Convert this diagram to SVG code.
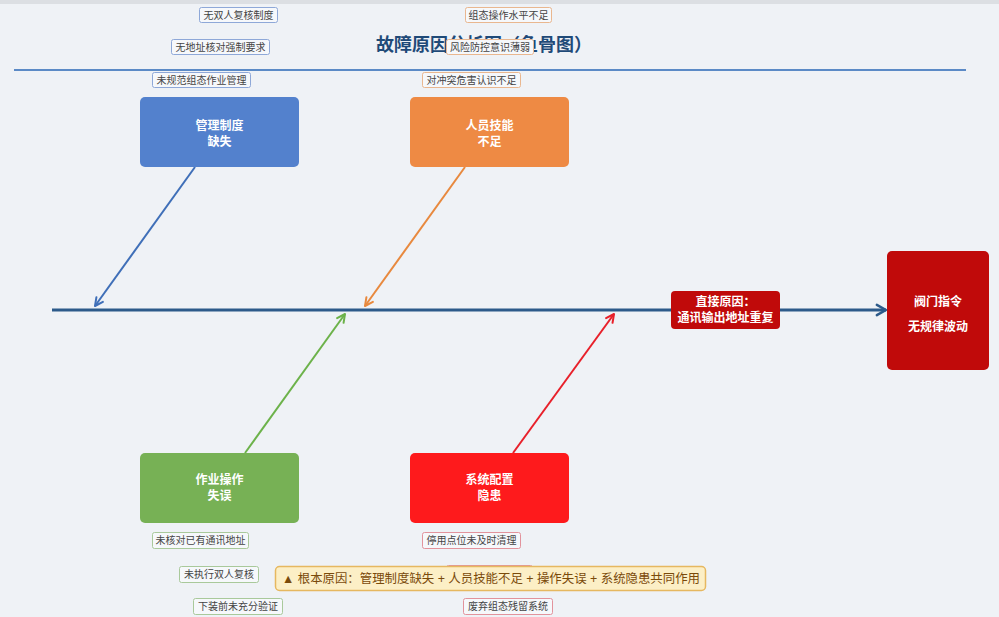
<svg xmlns="http://www.w3.org/2000/svg" width="999" height="617" viewBox="0 0 999 617">
<style>
text{font-family:"Liberation Sans","Noto Sans CJK SC",sans-serif}
.cat{font-size:12px;font-weight:bold;fill:#fff;text-anchor:middle}
.lbl{font-size:10px;fill:#444;text-anchor:middle}
.lb{fill:#f6f8fb;stroke-width:1}
.lb-b{stroke:#8ea8d8}
.lb-o{stroke:#e9b78f}
.lb-g{stroke:#a9c99b}
.lb-r{stroke:#e2939c}
.br{fill:none;stroke-width:2}
</style>
<defs>
<marker id="ah-spine" markerUnits="userSpaceOnUse" markerWidth="16" markerHeight="16" viewBox="-2 -2 14 14" refX="9" refY="5" orient="auto"><path d="M1,0.5 L9,5 L1,9.5" fill="none" stroke="#2c5a8a" stroke-width="2.2" stroke-linecap="round" stroke-linejoin="round"/></marker>
<marker id="ah-b" markerUnits="userSpaceOnUse" markerWidth="14" markerHeight="14" viewBox="-2 -2 14 14" refX="9" refY="5" orient="auto"><path d="M1,1 L9,5 L1,9" fill="none" stroke="#3f6fb8" stroke-width="2" stroke-linecap="round" stroke-linejoin="round"/></marker>
<marker id="ah-o" markerUnits="userSpaceOnUse" markerWidth="14" markerHeight="14" viewBox="-2 -2 14 14" refX="9" refY="5" orient="auto"><path d="M1,1 L9,5 L1,9" fill="none" stroke="#e8893e" stroke-width="2" stroke-linecap="round" stroke-linejoin="round"/></marker>
<marker id="ah-g" markerUnits="userSpaceOnUse" markerWidth="14" markerHeight="14" viewBox="-2 -2 14 14" refX="9" refY="5" orient="auto"><path d="M1,1 L9,5 L1,9" fill="none" stroke="#6cb24a" stroke-width="2" stroke-linecap="round" stroke-linejoin="round"/></marker>
<marker id="ah-r" markerUnits="userSpaceOnUse" markerWidth="14" markerHeight="14" viewBox="-2 -2 14 14" refX="9" refY="5" orient="auto"><path d="M1,1 L9,5 L1,9" fill="none" stroke="#e8202a" stroke-width="2" stroke-linecap="round" stroke-linejoin="round"/></marker>
</defs>
<rect x="0" y="0" width="999" height="617" fill="#eff2f6"/>
<rect x="0" y="0" width="999" height="4" fill="#dcdfe3"/>

<g id="title">
<text x="484" y="51" text-anchor="middle" font-size="18" font-weight="bold" fill="#1f4a78">故障原因分析图（鱼骨图）</text>
<line x1="14" y1="70" x2="966" y2="70" stroke="#5b8ac6" stroke-width="2"/>
</g>

<g id="connectors">
<line x1="52" y1="310" x2="886" y2="310" stroke="#2c5a8a" stroke-width="3" marker-end="url(#ah-spine)"/>
<line class="br" x1="195" y1="167" x2="95" y2="306" stroke="#3f6fb8" marker-end="url(#ah-b)"/>
<line class="br" x1="465" y1="167" x2="365" y2="306" stroke="#e8893e" marker-end="url(#ah-o)"/>
<line class="br" x1="245" y1="453" x2="345" y2="314" stroke="#6cb24a" marker-end="url(#ah-g)"/>
<line class="br" x1="513" y1="453" x2="614" y2="314" stroke="#e8202a" marker-end="url(#ah-r)"/>
</g>

<g id="node-management">
<rect x="140" y="97" width="159" height="70" rx="5" fill="#5381cd"/>
<text class="cat" x="219.5" y="130">管理制度</text>
<text class="cat" x="219.5" y="146">缺失</text>
</g>
<g id="node-skill">
<rect x="410" y="97" width="159" height="70" rx="5" fill="#ee8a44"/>
<text class="cat" x="489.5" y="130">人员技能</text>
<text class="cat" x="489.5" y="146">不足</text>
</g>
<g id="node-operation">
<rect x="140" y="453" width="159" height="70" rx="5" fill="#77b155"/>
<text class="cat" x="219.5" y="484">作业操作</text>
<text class="cat" x="219.5" y="500">失误</text>
</g>
<g id="node-system">
<rect x="410" y="453" width="159" height="70" rx="5" fill="#fe1a1c"/>
<text class="cat" x="489.5" y="484">系统配置</text>
<text class="cat" x="489.5" y="500">隐患</text>
</g>
<g id="node-direct">
<rect x="671" y="291" width="109" height="38" rx="4" fill="#c00a0a"/>
<text class="cat" x="725.5" y="306">直接原因：</text>
<text class="cat" x="725.5" y="322">通讯输出地址重复</text>
</g>
<g id="node-effect">
<rect x="887" y="251" width="102" height="119" rx="5" fill="#c00a0a"/>
<text class="cat" x="938" y="306">阀门指令</text>
<text class="cat" x="938" y="331">无规律波动</text>
</g>

<g id="labels-management">
<rect class="lb lb-b" x="199.5" y="7.5" width="78" height="15" rx="2"/>
<text class="lbl" x="238.5" y="18.5">无双人复核制度</text>
<rect class="lb lb-b" x="171.5" y="39.5" width="98" height="15" rx="2"/>
<text class="lbl" x="220.5" y="50.5">无地址核对强制要求</text>
<rect class="lb lb-b" x="152.5" y="72.5" width="98" height="15" rx="2"/>
<text class="lbl" x="201.5" y="83.5">未规范组态作业管理</text>
</g>
<g id="labels-skill">
<rect class="lb lb-o" x="465.5" y="7.5" width="86" height="15" rx="2"/>
<text class="lbl" x="508.5" y="18.5">组态操作水平不足</text>
<rect class="lb lb-o" x="446.5" y="39.5" width="87" height="15" rx="2"/>
<text class="lbl" x="490" y="50.5">风险防控意识薄弱</text>
<rect class="lb lb-o" x="422.5" y="72.5" width="98" height="15" rx="2"/>
<text class="lbl" x="471.5" y="83.5">对冲突危害认识不足</text>
</g>
<g id="labels-operation">
<rect class="lb lb-g" x="152.5" y="532.5" width="96" height="16" rx="2"/>
<text class="lbl" x="200.5" y="544">未核对已有通讯地址</text>
<rect class="lb lb-g" x="179.5" y="566.5" width="79" height="16" rx="2"/>
<text class="lbl" x="219" y="578">未执行双人复核</text>
<rect class="lb lb-g" x="193.5" y="598.5" width="89" height="16" rx="2"/>
<text class="lbl" x="238" y="610">下装前未充分验证</text>
</g>
<g id="labels-system">
<rect class="lb lb-r" x="422.5" y="532.5" width="98" height="16" rx="2"/>
<text class="lbl" x="471.5" y="544">停用点位未及时清理</text>
<rect class="lb lb-r" x="446.5" y="565.5" width="86" height="16" rx="2"/>
<rect class="lb lb-r" x="463.5" y="598.5" width="89" height="16" rx="2"/>
<text class="lbl" x="508" y="610">废弃组态残留系统</text>
</g>

<g id="root-cause">
<rect x="275.5" y="566.5" width="430" height="24" rx="4" fill="#fcefc6" stroke="#e6b860" stroke-width="1.5"/>
<text x="282" y="583" font-size="12.5" fill="#7a4a0a" textLength="418" lengthAdjust="spacingAndGlyphs">▲ 根本原因：管理制度缺失 + 人员技能不足 + 操作失误 + 系统隐患共同作用</text>
</g>
</svg>
